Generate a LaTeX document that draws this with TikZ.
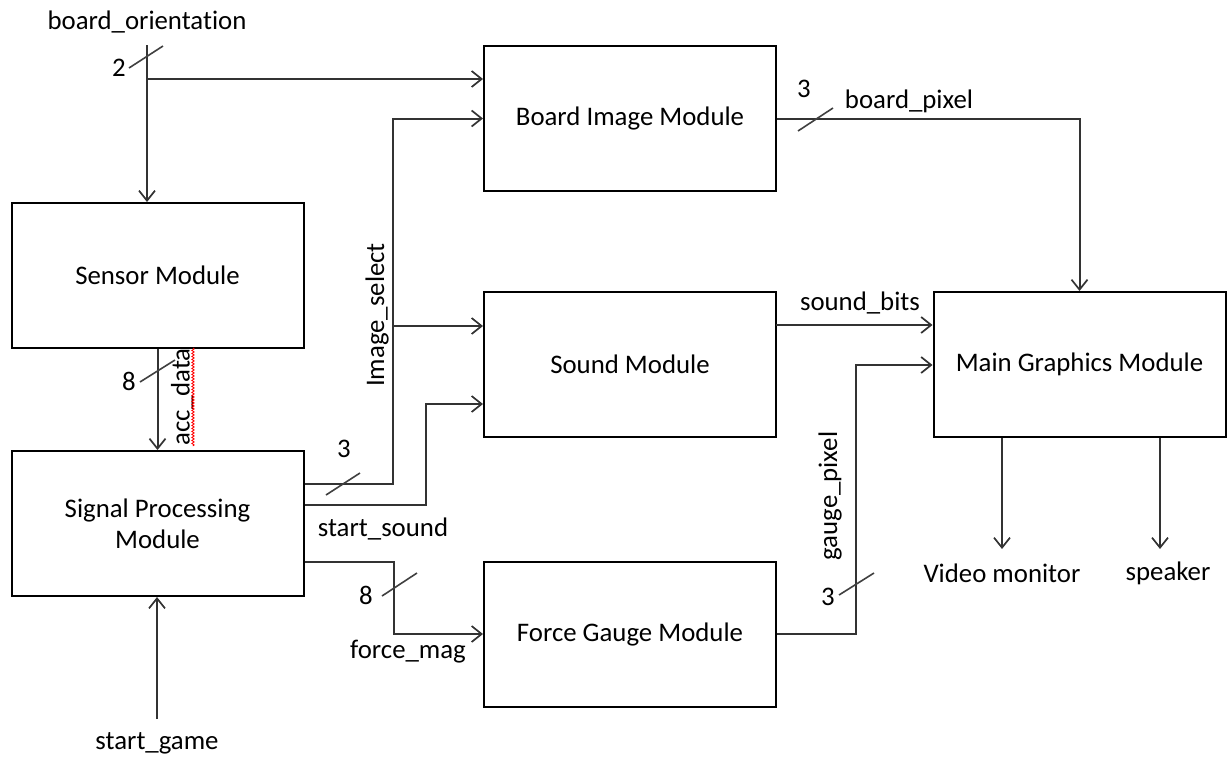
\documentclass[tikz,border=0pt]{standalone}
\usepackage{fontspec}
\setmainfont{Carlito}[Ligatures=NoCommon]
\usetikzlibrary{arrows.meta,decorations.pathmorphing}
\begin{document}
\begin{tikzpicture}[x=1pt,y=-1pt,
  every node/.style={font=\fontsize{26.8}{31}\selectfont, inner sep=0pt},
  block/.style={draw, line width=2pt, minimum width=292pt, minimum height=145pt, align=center},
  wire/.style={line width=2pt, draw=black!80},
  arr/.style={wire, -{Straight Barb[length=10pt,width=16pt,line width=1.7pt]}},
  busmark/.style={line width=1.6pt, draw=black!75}
]
\useasboundingbox (0,0) rectangle (1227,758);

% blocks
\node[block] (sensor) at (157.5,275.5) {Sensor Module};
\node[block] (signal) at (157.5,523.5) {Signal Processing\\Module};
\node[block] (board) at (630,118.5) {Board Image Module};
\node[block] (sound) at (630,364.5) {Sound Module};
\node[block] (force) at (630,634) {Force Gauge Module};
\node[block] (main) at (1079.5,364.5) {Main Graphics Module};

% helper coordinates
\coordinate (botop) at (147,45);
\coordinate (bosplit) at (147,79);
\coordinate (is1) at (393,484);
\coordinate (isb) at (393,326);
\coordinate (ss1) at (426,505);
\coordinate (ss2) at (426,404);
\coordinate (fm1) at (394,562);
\coordinate (sb) at (776,325);
\coordinate (gp1) at (856,634);
\coordinate (gp2) at (856,365);
\coordinate (sgtop) at (157,719);
\coordinate (vmtop) at (1002,549);
\coordinate (sptop) at (1160,549);

% labels
\node (bolbl) at (147,22) {board\_orientation};
\node (two) at (119,68) {2};
\node (eightA) at (129,381) {8};
\node[rotate=90] (acclbl) at (182,397) {acc\_data};
\node[rotate=90] (islbl) at (377,315) {Image\_select};
\node (threeA) at (344,449) {3};
\node (sslbl) at (383,529) {start\_sound};
\node (eightB) at (366,595) {8};
\node (fmlbl) at (408,652) {force\_mag};
\node (sglbl) at (157,743) {start\_game};
\node (threeB) at (804,89) {3};
\node (bplbl) at (909,101) {board\_pixel};
\node (sblbl) at (860,303) {sound\_bits};
\node[rotate=90] (gplbl) at (830,496) {gauge\_pixel};
\node (threeC) at (828,597) {3};
\node (vm) at (1002,573) {Video monitor};
\node (sp) at (1168,573) {speaker};

% connectors
\draw[arr] (botop) -- (botop |- sensor.north);
\draw[arr] (bosplit) -- (bosplit -| board.west);
\draw[arr] (sensor.south) -- (signal.north);
\draw[arr] (is1 -| signal.east) -- (is1) |- (board.west);
\draw[arr] (isb) -- (isb -| sound.west);
\draw[arr] (ss1 -| signal.east) -- (ss1) -- (ss2) -- (ss2 -| sound.west);
\draw[arr] (fm1 -| signal.east) -- (fm1) |- (force.west);
\draw[arr] (sgtop) -- (sgtop |- signal.south);
\draw[arr] (board.east) -| (main.north);
\draw[arr] (sb) -- (sb -| main.west);
\draw[arr] (force.east) -- (gp1) -- (gp2) -- (gp2 -| main.west);
\draw[arr] (vmtop |- main.south) -- (vmtop);
\draw[arr] (sptop |- main.south) -- (sptop);

% bus width marks
\draw[busmark] (129,68) -- (163,46);
\draw[busmark] (140,382) -- (175,360);
\draw[busmark] (326,495) -- (360,473);
\draw[busmark] (382,596) -- (417,573);
\draw[busmark] (798,131) -- (833,108);
\draw[busmark] (839,595) -- (874,573);

% spell-check squiggle
\draw[red, line width=0.8pt, decorate, decoration={snake, amplitude=1.2pt, segment length=3pt}] (193,348) -- (193,446);
\end{tikzpicture}
\end{document}
